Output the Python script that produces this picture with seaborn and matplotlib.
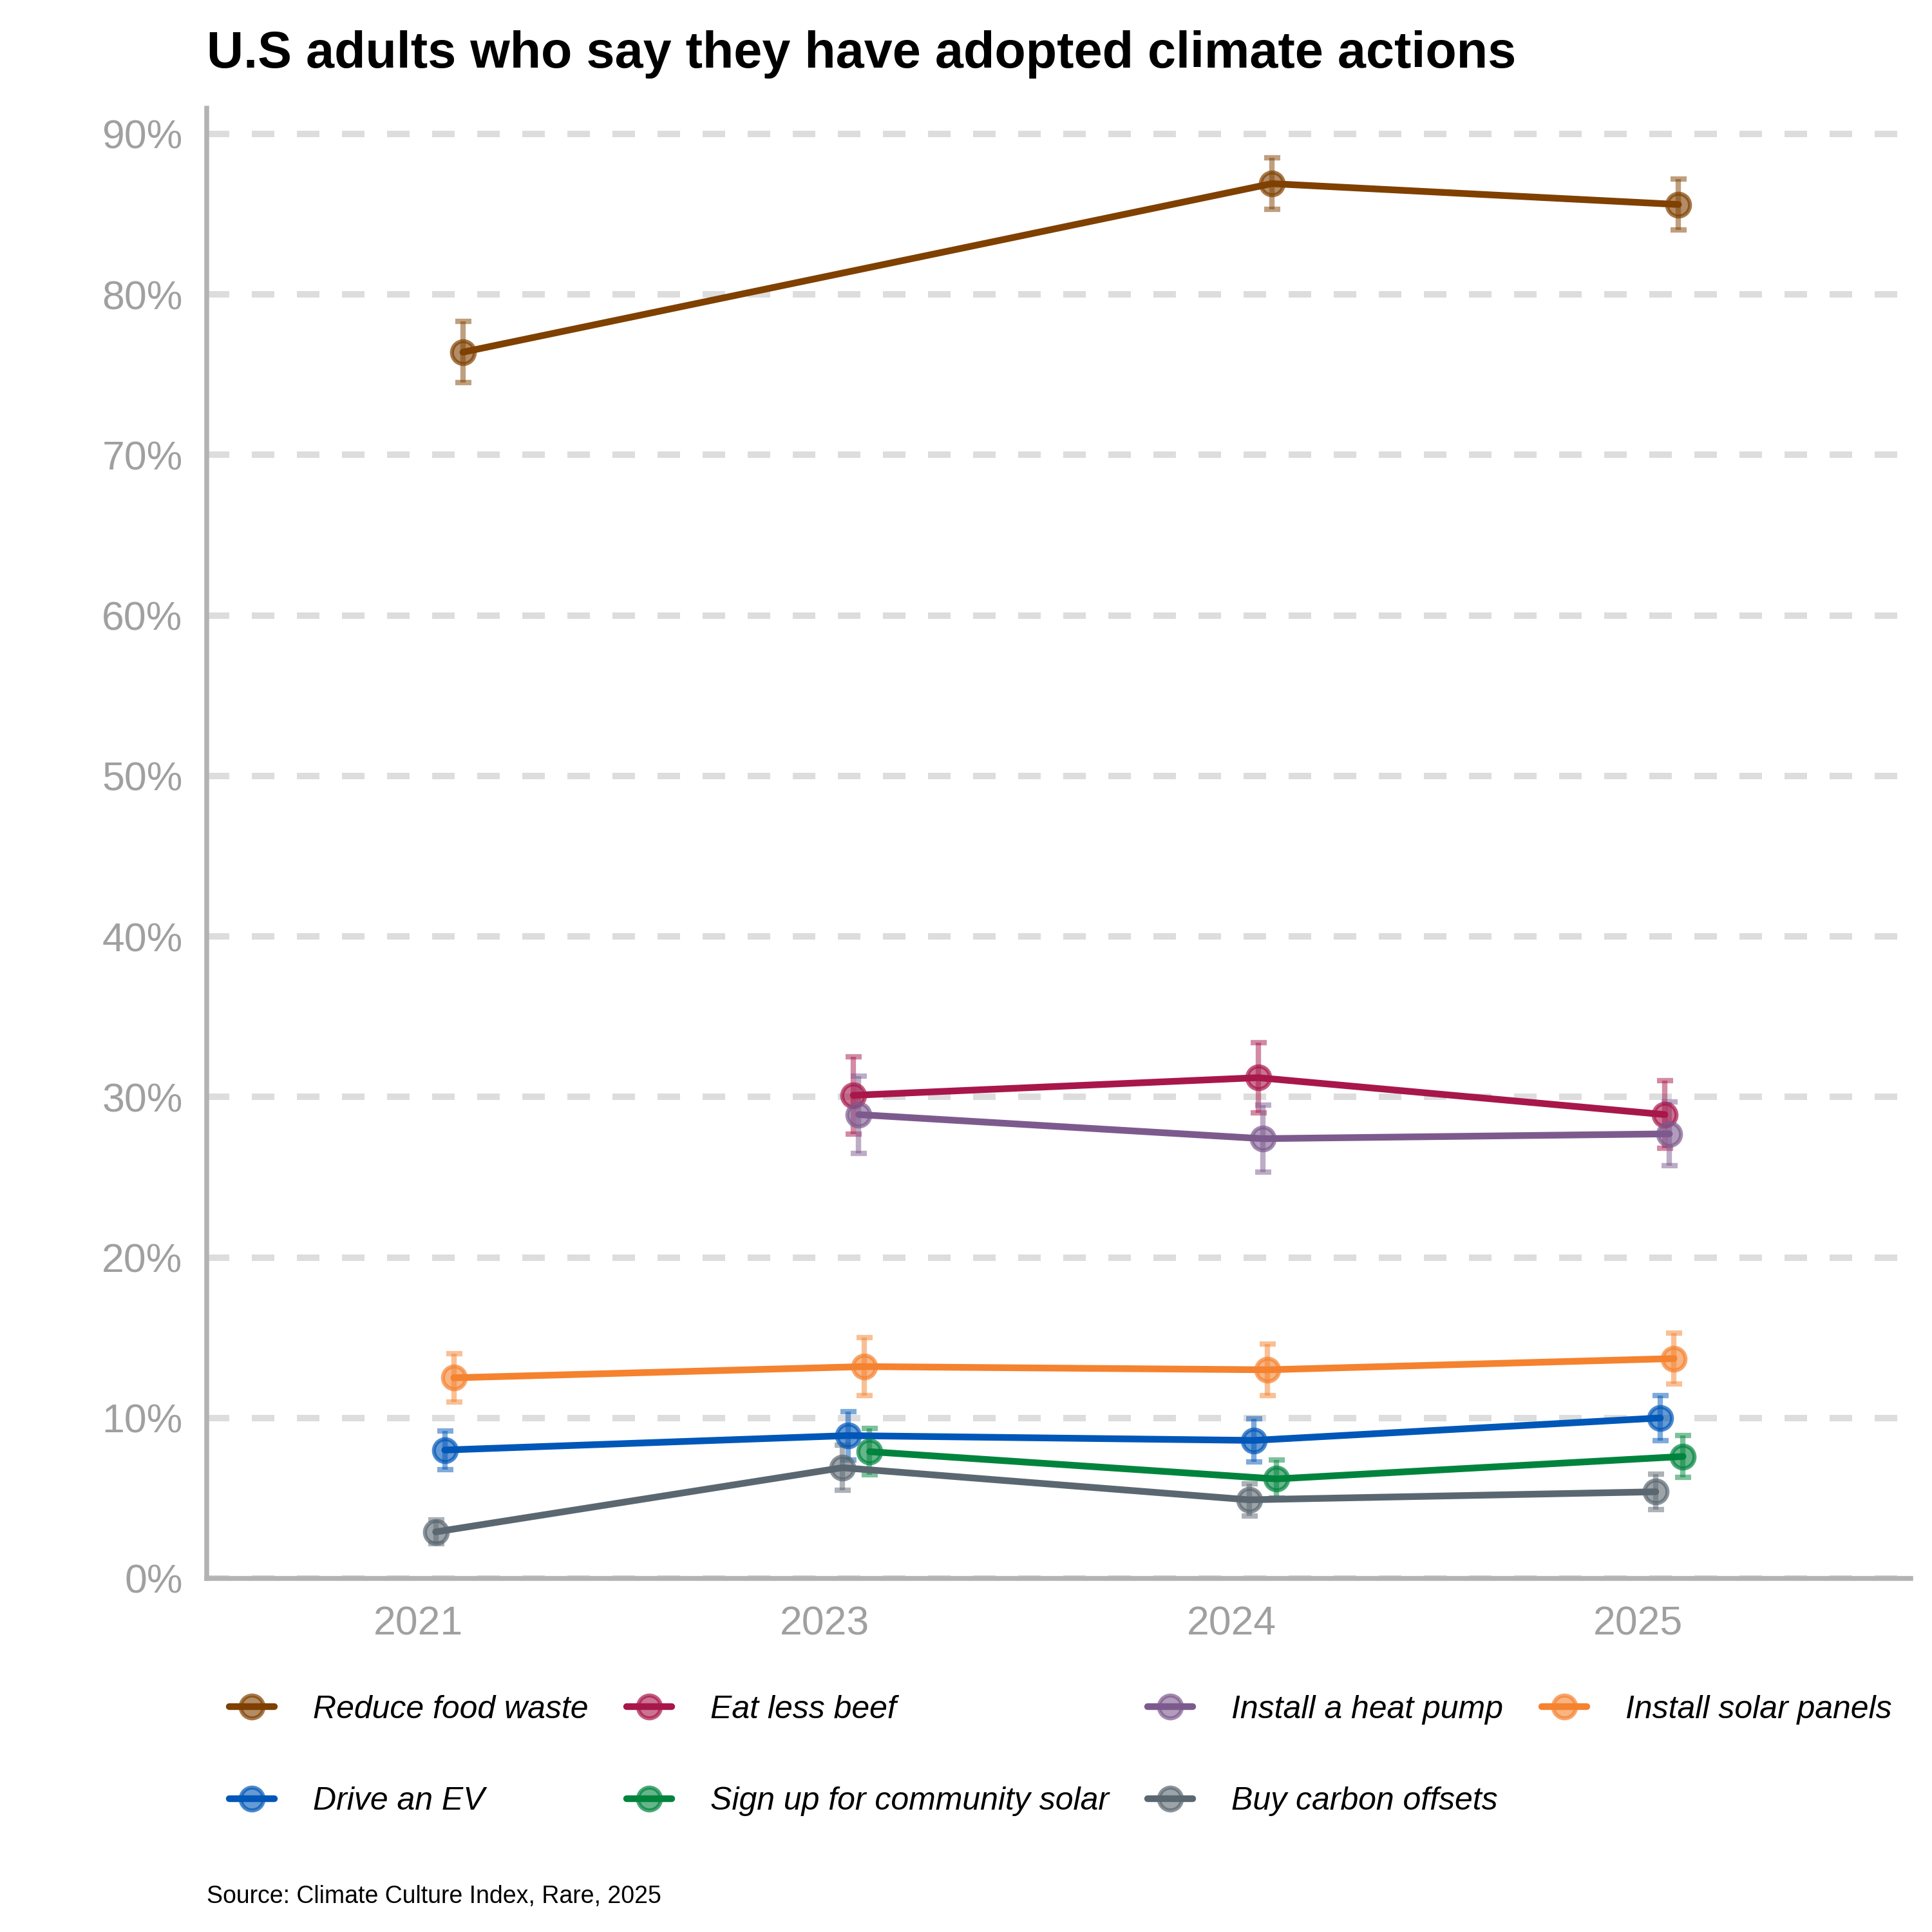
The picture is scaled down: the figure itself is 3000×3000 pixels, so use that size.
import numpy as np
import pandas as pd
import matplotlib
matplotlib.use("Agg")
import matplotlib.pyplot as plt
from matplotlib.colors import to_rgba
import seaborn as sns

sns.set_style("white")
plt.rcParams['font.family'] = ['Liberation Sans', 'DejaVu Sans']

# data (percent of U.S. adults), None = not asked that year
years = ['2021', '2023', '2024', '2025']
actions = ['Reduce food waste', 'Eat less beef', 'Install a heat pump', 'Install solar panels',
           'Drive an EV', 'Sign up for community solar', 'Buy carbon offsets']

food_waste = [76.4, None, 86.9, 85.6]
less_beef = [None, 30.1, 31.2, 28.9]
heat_pump = [None, 28.9, 27.4, 27.7]
solar_panels = [12.5, 13.2, 13.0, 13.7]
drive_ev = [8.0, 8.9, 8.6, 10.0]
community_solar = [None, 7.9, 6.2, 7.6]
carbon_offsets = [2.9, 6.9, 4.9, 5.4]

food_waste_err = [1.9, None, 1.6, 1.6]
less_beef_err = [None, 2.4, 2.2, 2.1]
heat_pump_err = [None, 2.4, 2.1, 2.0]
solar_panels_err = [1.5, 1.8, 1.6, 1.6]
drive_ev_err = [1.2, 1.5, 1.35, 1.4]
community_solar_err = [None, 1.45, 1.2, 1.3]
carbon_offsets_err = [0.75, 1.4, 1.0, 1.1]

colors = ['#7F4000', '#A8174A', '#7D5A8E', '#F5822F', '#0057B8', '#00843D', '#5B6770']

series = [food_waste, less_beef, heat_pump, solar_panels, drive_ev, community_solar, carbon_offsets]
errs = [food_waste_err, less_beef_err, heat_pump_err, solar_panels_err, drive_ev_err,
        community_solar_err, carbon_offsets_err]

rows = []
for a, vals, ee in zip(actions, series, errs):
    for i, (y, v, e) in enumerate(zip(years, vals, ee)):
        if v is not None:
            rows.append(dict(action=a, year=y, yi=i, value=v, err=e))
df = pd.DataFrame(rows)

# dodge: series present in a year spread alphabetically, to the right of the tick
dodge_start, dodge_span = 0.043, 0.067
df['xpos'] = df['yi'].astype(float)
for yi, g in df.groupby('yi'):
    names = sorted(g['action'])
    n = len(names)
    for k, nm in enumerate(names):
        df.loc[(df.yi == yi) & (df.action == nm), 'xpos'] = yi + dodge_start + dodge_span * k / (n - 1)

fig = plt.figure(figsize=(10, 10), dpi=300)
ax = fig.add_axes([0.107, 0.183, 0.882, 0.761])

for a, c in zip(actions, colors):
    sub = df[df.action == a]
    ax.errorbar(sub['xpos'], sub['value'], yerr=sub['err'], fmt='none', ecolor=c, alpha=0.5,
                elinewidth=2.0, capsize=3, capthick=2.0, zorder=2)
    sns.lineplot(data=sub, x='xpos', y='value', ax=ax, color=c, lw=2.5, marker='o', markersize=8.5,
                 mfc=to_rgba(c, 0.6), mec=to_rgba(c, 0.7), mew=1.5, label=a, zorder=3,
                 estimator=None, sort=True)

ax.set_xlim(-0.52, 3.67)
ax.set_ylim(0, 91.6)
ax.set_xticks(range(len(years)))
ax.set_xticklabels(years)
ax.set_yticks(range(0, 91, 10))
ax.set_yticklabels([f'{t}%' for t in range(0, 91, 10)])
ax.tick_params(axis='both', length=0, labelsize=15, labelcolor='#A0A0A0')
ax.tick_params(axis='x', pad=10)
ax.tick_params(axis='y', pad=9)
ax.set_xlabel('')
ax.set_ylabel('')
ax.yaxis.grid(True, color='#DDDDDD', linestyle=(0, (3.5, 3.5)), linewidth=2.4)
ax.set_axisbelow(True)
for s in ['top', 'right']:
    ax.spines[s].set_visible(False)
for s in ['left', 'bottom']:
    ax.spines[s].set_color('#B3B3B3')
    ax.spines[s].set_linewidth(1.8)

handles, labels = ax.get_legend_handles_labels()
ax.get_legend().remove()
lookup = dict(zip(labels, handles))
order = ['Reduce food waste', 'Drive an EV', 'Eat less beef', 'Sign up for community solar',
         'Install a heat pump', 'Buy carbon offsets', 'Install solar panels']
fig.legend([lookup[o] for o in order], order, loc='center left', bbox_to_anchor=(0.1186, 0.0913),
           ncol=4, frameon=False, borderpad=0, borderaxespad=0, handlelength=1.4,
           handletextpad=1.2, columnspacing=1.2, labelspacing=1.93, labelcolor='black',
           prop=dict(family=['Liberation Sans', 'DejaVu Sans'], style='italic', size=12))

fig.text(0.107, 0.965, 'U.S adults who say they have adopted climate actions', fontsize=19,
         fontweight='bold', color='black', ha='left', va='baseline')
fig.text(0.107, 0.015, 'Source: Climate Culture Index, Rare, 2025', fontsize=9,
         color='black', ha='left', va='baseline')

fig.savefig('out.png', dpi=300)
